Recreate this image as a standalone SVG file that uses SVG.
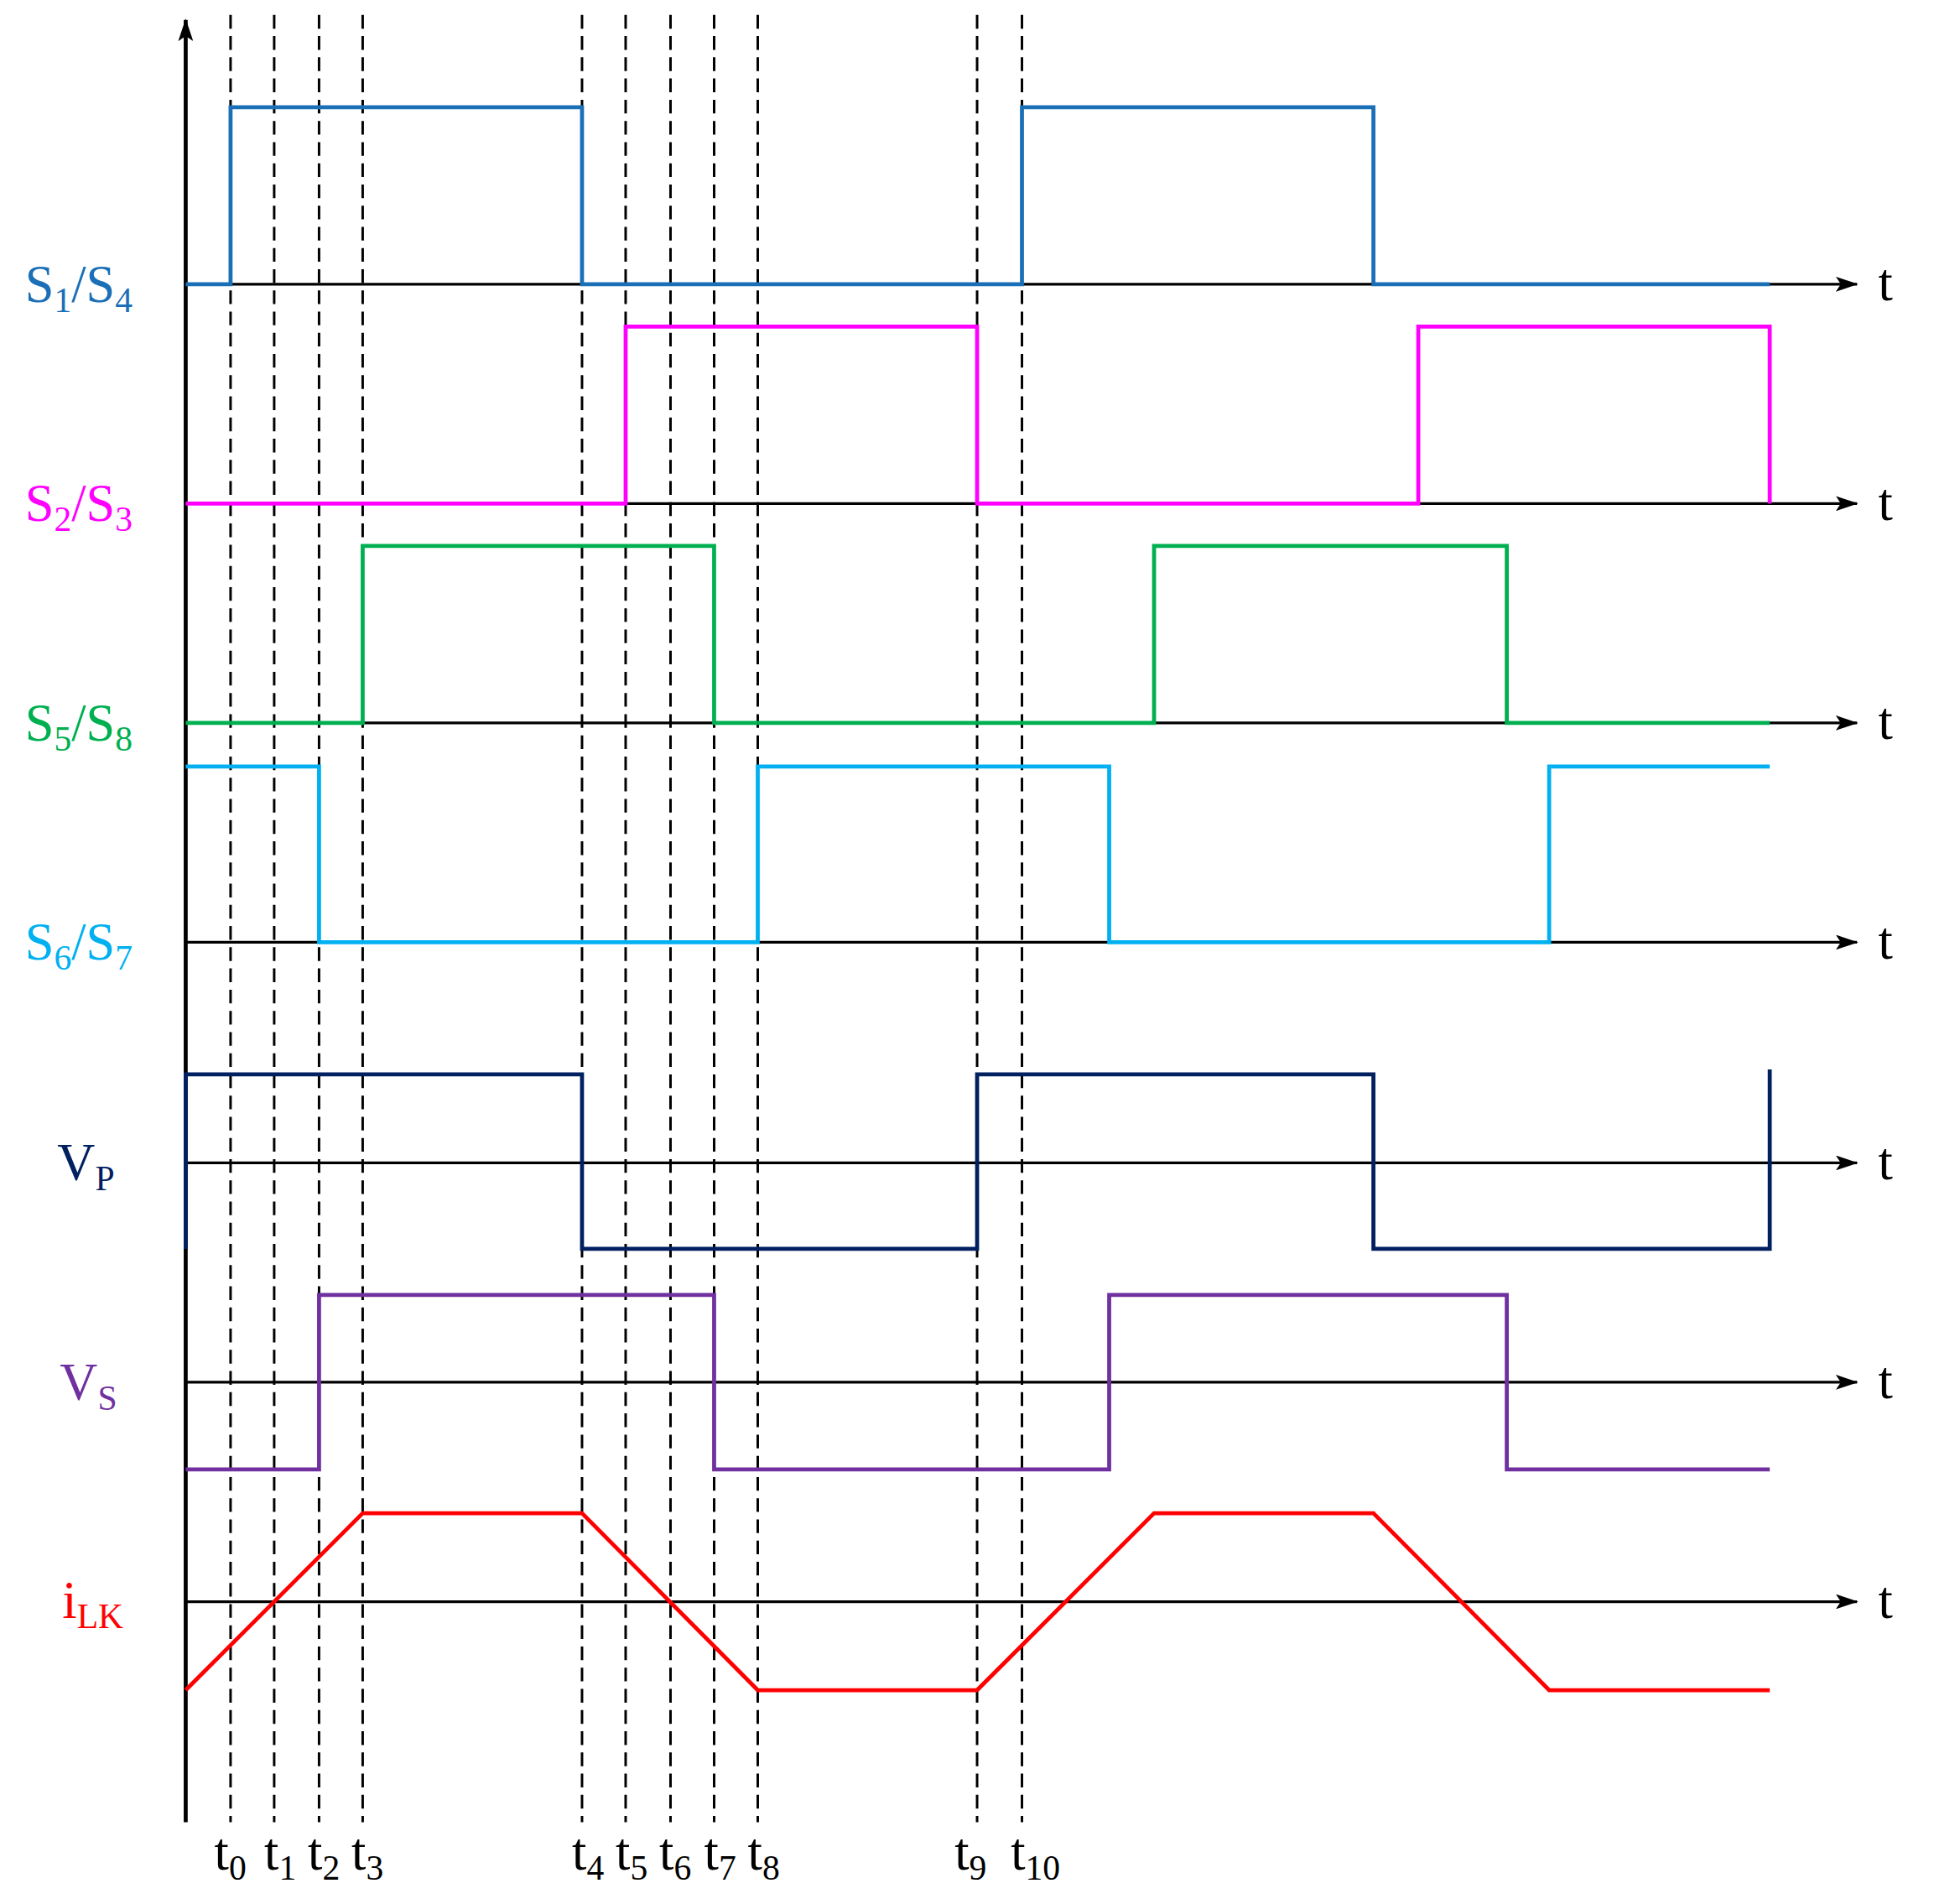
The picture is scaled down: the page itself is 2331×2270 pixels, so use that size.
<svg xmlns="http://www.w3.org/2000/svg" width="2331" height="2270" viewBox="0 0 2331 2270">
<defs>
<marker id="ar2" markerWidth="18" markerHeight="12" refX="17" refY="6" orient="auto" markerUnits="userSpaceOnUse"><path d="M0,0 L18,6 L0,12 L4,6 Z" fill="#000"/></marker>
</defs>
<style>
.ax{stroke:#000;stroke-width:2.2;fill:none}
.d{stroke:#000;stroke-width:2;stroke-dasharray:11,6;fill:none}
.w{stroke-width:3.2;fill:none}
text{font-family:"Liberation Serif","Times New Roman",serif;font-size:42px}
.sub{font-size:28px}
</style>
<rect width="2331" height="2270" fill="#fff"/>
<g transform="scale(1.486)">
<g id="connectors">
<line x1="149" y1="1462" x2="149" y2="16" stroke="#000" stroke-width="3.2" marker-end="url(#ar2)"/>
<g>
<line class="ax" x1="149" y1="228" x2="1490" y2="228" marker-end="url(#ar2)"/>
<line class="ax" x1="149" y1="404" x2="1490" y2="404" marker-end="url(#ar2)"/>
<line class="ax" x1="149" y1="580" x2="1490" y2="580" marker-end="url(#ar2)"/>
<line class="ax" x1="149" y1="756" x2="1490" y2="756" marker-end="url(#ar2)"/>
<line class="ax" x1="149" y1="933" x2="1490" y2="933" marker-end="url(#ar2)"/>
<line class="ax" x1="149" y1="1109" x2="1490" y2="1109" marker-end="url(#ar2)"/>
<line class="ax" x1="149" y1="1285" x2="1490" y2="1285" marker-end="url(#ar2)"/>
</g>
<g>
<line class="d" x1="185" y1="12" x2="185" y2="1462"/>
<line class="d" x1="220" y1="12" x2="220" y2="1462"/>
<line class="d" x1="256" y1="12" x2="256" y2="1462"/>
<line class="d" x1="291" y1="12" x2="291" y2="1462"/>
<line class="d" x1="467" y1="12" x2="467" y2="1462"/>
<line class="d" x1="502" y1="12" x2="502" y2="1462"/>
<line class="d" x1="538" y1="12" x2="538" y2="1462"/>
<line class="d" x1="573" y1="12" x2="573" y2="1462"/>
<line class="d" x1="608" y1="12" x2="608" y2="1462"/>
<line class="d" x1="784" y1="12" x2="784" y2="1462"/>
<line class="d" x1="820" y1="12" x2="820" y2="1462"/>
</g>
</g>
<g id="s14"><path class="w" stroke="#1B6FB7" d="M149,228 H185 V86 H467 V228 H820 V86 H1102 V228 H1420"/>
<text x="20" y="242" fill="#1B6FB7">S<tspan class="sub" dy="8">1</tspan><tspan dy="-8">/S</tspan><tspan class="sub" dy="8">4</tspan></text></g>
<g id="s23"><path class="w" stroke="#FF00FF" d="M149,404 H502 V262 H784 V404 H1138 V262 H1420 V404"/>
<text x="20" y="418" fill="#FF00FF">S<tspan class="sub" dy="8">2</tspan><tspan dy="-8">/S</tspan><tspan class="sub" dy="8">3</tspan></text></g>
<g id="s58"><path class="w" stroke="#00B050" d="M149,580 H291 V438 H573 V580 H926 V438 H1209 V580 H1420"/>
<text x="20" y="594" fill="#00B050">S<tspan class="sub" dy="8">5</tspan><tspan dy="-8">/S</tspan><tspan class="sub" dy="8">8</tspan></text></g>
<g id="s67"><path class="w" stroke="#00B0F0" d="M149,615 H256 V756 H608 V615 H890 V756 H1243 V615 H1420"/>
<text x="20" y="770" fill="#00B0F0">S<tspan class="sub" dy="8">6</tspan><tspan dy="-8">/S</tspan><tspan class="sub" dy="8">7</tspan></text></g>
<g id="vp"><path class="w" stroke="#002060" d="M149,1002 V862 H467 V1002 H784 V862 H1102 V1002 H1420 V858"/>
<text x="46" y="947" fill="#002060">V<tspan class="sub" dy="8">P</tspan></text></g>
<g id="vs"><path class="w" stroke="#7030A0" d="M149,1179 H256 V1039 H573 V1179 H890 V1039 H1209 V1179 H1420"/>
<text x="48" y="1123" fill="#7030A0">V<tspan class="sub" dy="8">S</tspan></text></g>
<g id="ilk"><path class="w" stroke="#FF0000" d="M149,1356 L291,1214 H467 L608,1356 H784 L926,1214 H1102 L1243,1356 H1420"/>
<text x="50" y="1298" fill="#FF0000">i<tspan class="sub" dy="8">LK</tspan></text></g>
<g id="tlabels">
<text x="1507" y="241">t</text><text x="1507" y="417">t</text><text x="1507" y="593">t</text><text x="1507" y="769">t</text><text x="1507" y="946">t</text><text x="1507" y="1122">t</text><text x="1507" y="1298">t</text>
<text x="172" y="1500">t<tspan class="sub" dy="8">0</tspan></text>
<text x="212" y="1500">t<tspan class="sub" dy="8">1</tspan></text>
<text x="247" y="1500">t<tspan class="sub" dy="8">2</tspan></text>
<text x="282" y="1500">t<tspan class="sub" dy="8">3</tspan></text>
<text x="459" y="1500">t<tspan class="sub" dy="8">4</tspan></text>
<text x="494" y="1500">t<tspan class="sub" dy="8">5</tspan></text>
<text x="529" y="1500">t<tspan class="sub" dy="8">6</tspan></text>
<text x="565" y="1500">t<tspan class="sub" dy="8">7</tspan></text>
<text x="600" y="1500">t<tspan class="sub" dy="8">8</tspan></text>
<text x="766" y="1500">t<tspan class="sub" dy="8">9</tspan></text>
<text x="811" y="1500">t<tspan class="sub" dy="8">10</tspan></text>
</g>
</g>
</svg>
